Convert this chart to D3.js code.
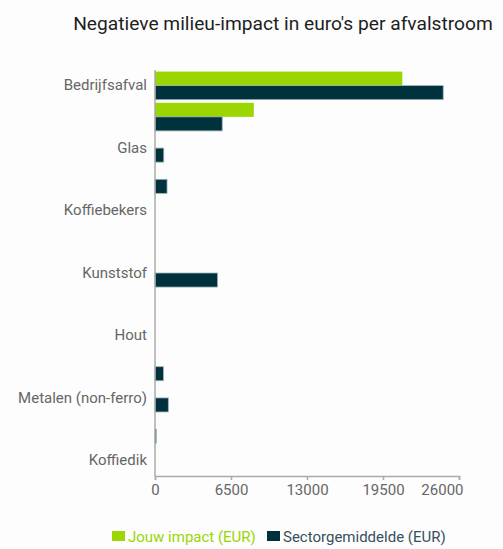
<!DOCTYPE html>
<html>
<head>
<meta charset="utf-8">
<script src="https://cdn.jsdelivr.net/npm/d3@7"></script>
<style>
  body { margin: 0; background: #fdfdfd; }
  svg { display: block; font-family: Roboto, "Noto Sans", sans-serif; }
</style>
</head>
<body>
<div id="chart"></div>
<script>
const categories = [
  "Bedrijfsafval", "Papier en karton", "Glas", "GFT", "Koffiebekers", "Swill",
  "Kunststof", "Folie", "Hout", "Metalen (ferro)", "Metalen (non-ferro)", "Elektronica", "Koffiedik"
];
const seriesNames = ["Jouw impact (EUR)", "Sectorgemiddelde (EUR)"];
const jouwImpact = [21150, 8450, 0, 0, 0, 0, 0, 0, 0, 0, 0, 0, 0];
const sectorGemiddelde = [24650, 5750, 750, 1030, 0, 0, 5350, 0, 0, 720, 1140, 110, 0];
const xTicks = [0, 6500, 13000, 19500, 26000];
const colors = ["#9bd600", "#00323e"];
const legendTextColors = ["#9bd600", "#37505c"];

const W = 503, H = 549;
const svg = d3.select("#chart").append("svg").attr("width", W).attr("height", H);
svg.append("rect").attr("width", W).attr("height", H).attr("fill", "#fdfdfd");

const x = d3.scaleLinear().domain([0, 26000]).range([155, 459]);
const y = d3.scaleBand().domain(categories).range([70, 476]).paddingInner(0.1).paddingOuter(0.05);
const y1 = d3.scaleBand().domain(seriesNames).range([0, y.bandwidth()]);

// title
svg.append("text")
  .attr("x", 283).attr("y", 30)
  .attr("text-anchor", "middle")
  .attr("font-size", 19.2)
  .attr("fill", "#1e1e1e")
  .text("Negatieve milieu-impact in euro's per afvalstroom");

// bars
const data = categories.map((c, i) => ({ cat: c, vals: [jouwImpact[i], sectorGemiddelde[i]] }));
const groups = svg.append("g").selectAll("g").data(data).join("g")
  .attr("transform", d => `translate(0,${y(d.cat)})`);
groups.selectAll("rect").data(d => d.vals.map((v, j) => ({ v, j })).filter(e => e.v > 0))
  .join("rect")
  .attr("x", x(0))
  .attr("y", e => y1(seriesNames[e.j]))
  .attr("width", e => x(e.v) - x(0))
  .attr("height", y1.bandwidth())
  .attr("fill", e => colors[e.j])
  .attr("stroke", e => e.j === 1 ? "#9fb4ba" : "none")
  .attr("stroke-width", 0.8);

// y axis
const yAxis = d3.axisLeft(y).tickSize(0).tickPadding(8)
  .tickFormat((d, i) => i % 2 === 0 ? d : "");
const gy = svg.append("g").attr("transform", `translate(${x(0)},0)`).call(yAxis);
gy.select(".domain").attr("stroke", "#aaaaaa").attr("stroke-width", 1.5)
  .attr("d", `M0,70V476`);
gy.selectAll("text").attr("font-size", 15).attr("fill", "#666666")
  .attr("font-family", "Roboto, sans-serif");

// x axis
const xAxis = d3.axisBottom(x).tickValues(xTicks).tickSize(4).tickSizeOuter(4).tickPadding(4)
  .tickFormat(d3.format("d"));
const gx = svg.append("g").attr("transform", "translate(0,476)").call(xAxis);
gx.select(".domain").attr("stroke", "#aaaaaa").attr("stroke-width", 1.5);
gx.selectAll(".tick line").attr("stroke", "#aaaaaa").attr("stroke-width", 1.5);
gx.selectAll("text").attr("font-size", 15).attr("fill", "#666666")
  .attr("font-family", "Roboto, sans-serif");
gx.selectAll(".tick").filter(d => d === 26000).select("text")
  .attr("text-anchor", "end").attr("x", 4);

// legend
const legendItems = [
  { name: seriesNames[0], x: 112 },
  { name: seriesNames[1], x: 267 }
];
const lg = svg.append("g");
legendItems.forEach((it, i) => {
  lg.append("rect").attr("x", it.x).attr("y", 531).attr("width", 13).attr("height", 10)
    .attr("fill", colors[i]);
  lg.append("text").attr("x", it.x + 16).attr("y", 541.5)
    .attr("font-size", 15).attr("fill", legendTextColors[i])
    .text(it.name);
});
</script>
</body>
</html>
